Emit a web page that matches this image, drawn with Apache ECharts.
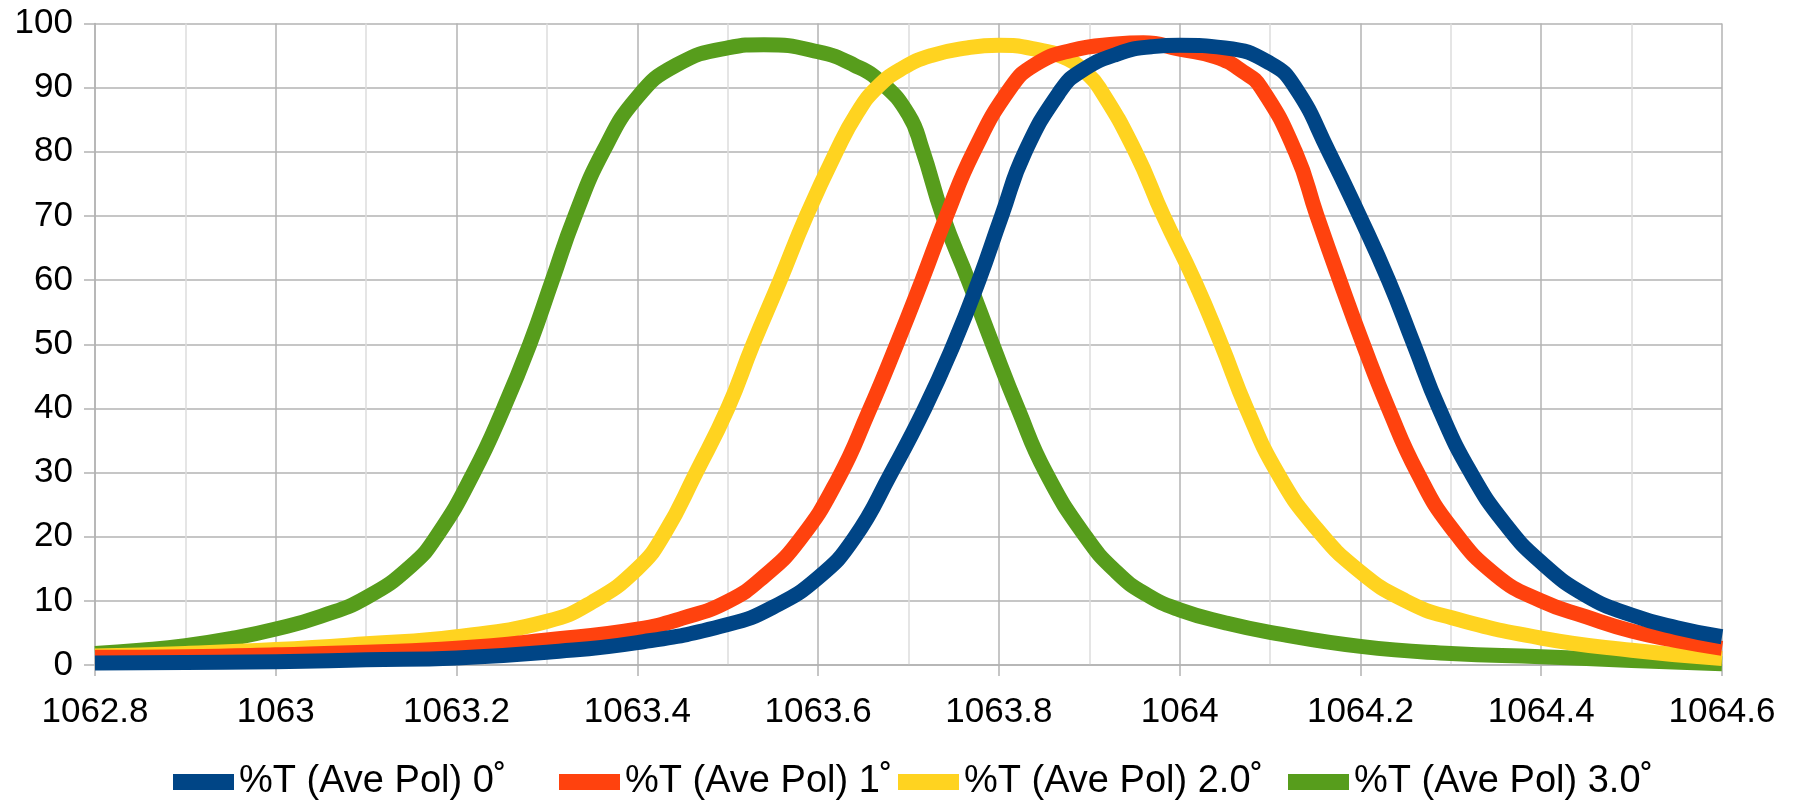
<!DOCTYPE html>
<html>
<head>
<meta charset="utf-8">
<script src="https://cdn.jsdelivr.net/npm/echarts@6/dist/echarts.min.js"></script>
<style>
html,body{margin:0;padding:0;background:#fff;}
#chart{width:1795px;height:805px;}
</style>
</head>
<body>
<div id="chart"></div>
<script>
// Series names (legend order)
const seriesNames = ['%T (Ave Pol) 0˚', '%T (Ave Pol) 1˚', '%T (Ave Pol) 2.0˚', '%T (Ave Pol) 3.0˚'];
const seriesColors = ['#004586', '#ff420e', '#ffd320', '#579d1c'];

// 0° (blue)
const xBlue = [1062.8, 1062.9, 1063.0, 1063.1, 1063.2, 1063.3, 1063.4, 1063.5, 1063.55, 1063.6, 1063.64, 1063.681, 1063.718, 1063.75, 1063.778, 1063.803, 1063.829, 1063.868, 1063.89, 1063.93, 1063.97, 1064.0, 1064.05, 1064.1, 1064.128, 1064.165, 1064.199, 1064.231, 1064.259, 1064.287, 1064.322, 1064.36, 1064.4, 1064.45, 1064.5, 1064.55, 1064.6];
const yBlue = [0.3, 0.4, 0.5, 0.8, 1.1, 2.0, 3.5, 6.3, 9.0, 13.6, 19.8, 30, 40, 50, 60, 70, 80, 89.5, 92.5, 95.2, 96.4, 96.6, 96.2, 93.8, 90, 80, 70, 60, 50, 40, 30, 22, 16, 10.8, 7.8, 5.8, 4.4];

// 1° (orange)
const xOrange = [1062.8, 1062.9, 1063.0, 1063.1, 1063.2, 1063.3, 1063.4, 1063.45, 1063.5, 1063.54, 1063.58, 1063.622, 1063.656, 1063.687, 1063.715, 1063.742, 1063.772, 1063.813, 1063.84, 1063.88, 1063.93, 1063.96, 1064.0, 1064.04, 1064.07, 1064.09, 1064.128, 1064.152, 1064.177, 1064.203, 1064.231, 1064.263, 1064.3, 1064.35, 1064.4, 1064.45, 1064.5, 1064.55, 1064.6];
const yOrange = [1.2, 1.3, 1.6, 2.0, 2.6, 3.9, 5.6, 7.3, 9.9, 13.8, 19.6, 29, 39.5, 50, 60, 70, 80, 90, 93.6, 95.8, 96.8, 97, 96, 94.8, 92.5, 90, 80, 70, 60, 50, 40, 30, 21.5, 14, 10, 7.5, 5.3, 3.8, 2.6];

// 2.0° (yellow)
const xYellow = [1062.8, 1062.9, 1063.0, 1063.1, 1063.2, 1063.3, 1063.35, 1063.4, 1063.43, 1063.465, 1063.5, 1063.528, 1063.558, 1063.587, 1063.62, 1063.643, 1063.665, 1063.693, 1063.725, 1063.765, 1063.8, 1063.837, 1063.876, 1063.895, 1063.911, 1063.951, 1063.982, 1064.016, 1064.046, 1064.074, 1064.108, 1064.15, 1064.2, 1064.25, 1064.3, 1064.4, 1064.5, 1064.6];
const yYellow = [1.4, 1.8, 2.4, 3.3, 4.4, 6.8, 9.8, 15, 20.5, 30, 40, 50, 60, 70, 80, 86, 90, 93, 95, 96.2, 96.6, 96.1, 94.5, 92.5, 90, 80, 70, 60, 50, 40, 30, 21.5, 14.5, 10, 7.4, 4.2, 2.3, 1.0];

// 3.0° (green)
const xGreen = [1062.8, 1062.85, 1062.9, 1062.95, 1063.0, 1063.05, 1063.1, 1063.15, 1063.18, 1063.219, 1063.252, 1063.281, 1063.306, 1063.331, 1063.362, 1063.4, 1063.443, 1063.5, 1063.54, 1063.6, 1063.64, 1063.67, 1063.7, 1063.715, 1063.738, 1063.766, 1063.793, 1063.821, 1063.852, 1063.896, 1063.93, 1063.963, 1064.0, 1064.05, 1064.1, 1064.2, 1064.3, 1064.4, 1064.5, 1064.6];
const yGreen = [1.8, 2.3, 3.0, 4.1, 5.6, 7.6, 10.5, 15.5, 20.5, 30, 40, 50, 60, 70, 80, 88.5, 93.5, 96.2, 96.7, 95.6, 93.5, 90.8, 85.8, 80.5, 70, 60, 50, 40, 30, 20, 14.5, 11, 8.6, 6.6, 5.1, 2.9, 1.8, 1.3, 0.7, 0.2];

const xs = [xBlue, xOrange, xYellow, xGreen];
const ys = [yBlue, yOrange, yYellow, yGreen];

const FONT = 'Liberation Sans';
const GRID = '#b3b3b3';

const chart = echarts.init(document.getElementById('chart'), null, {renderer: 'canvas'});

// draw green first (bottom) and blue last (top), as in the reference
const series = [3, 2, 1, 0].map(i => ({
  name: seriesNames[i],
  type: 'line',
  data: xs[i].map((x, k) => [x, ys[i][k]]),
  showSymbol: false,
  smooth: 0.5,
  lineStyle: {color: seriesColors[i], width: 15, cap: 'butt', join: 'round'},
  itemStyle: {color: seriesColors[i]},
  emphasis: {disabled: true},
  animation: false
}));

// one legend per entry, placed like the reference
const legendLeft = [168, 554, 893, 1283];
const legends = seriesNames.map((n, i) => ({
  data: [n],
  icon: 'rect',
  itemWidth: 61,
  itemHeight: 16,
  left: legendLeft[i],
  top: 758,
  textStyle: {fontFamily: FONT, fontSize: 38, color: '#000'},
  selectedMode: false
}));

chart.setOption({
  animation: false,
  textStyle: {fontFamily: FONT},
  grid: {left: 95, right: 73, top: 23.5, bottom: 140},
  legend: legends,
  xAxis: {
    type: 'value',
    min: 1062.8,
    max: 1064.6,
    interval: 0.2,
    axisLine: {show: true, onZero: false, lineStyle: {color: GRID, width: 1.5}},
    axisTick: {show: true, length: 11, lineStyle: {color: GRID, width: 1.5}},
    minorTick: {show: false, splitNumber: 2},
    minorSplitLine: {show: true, lineStyle: {color: '#dddddd', width: 1.5}},
    splitLine: {show: true, lineStyle: {color: GRID, width: 1.5}},
    axisLabel: {
      margin: 30,
      fontFamily: FONT,
      fontSize: 35,
      color: '#000',
      formatter: v => String(parseFloat(Number(v).toFixed(1)))
    }
  },
  yAxis: {
    type: 'value',
    min: 0,
    max: 100,
    interval: 10,
    axisLine: {show: true, lineStyle: {color: GRID, width: 1.5}},
    axisTick: {show: true, length: 11, lineStyle: {color: GRID, width: 1.5}},
    splitLine: {show: true, lineStyle: {color: GRID, width: 1.5}},
    axisLabel: {margin: 22, fontFamily: FONT, fontSize: 35, color: '#000'}
  },
  series: series
});
</script>
</body>
</html>
